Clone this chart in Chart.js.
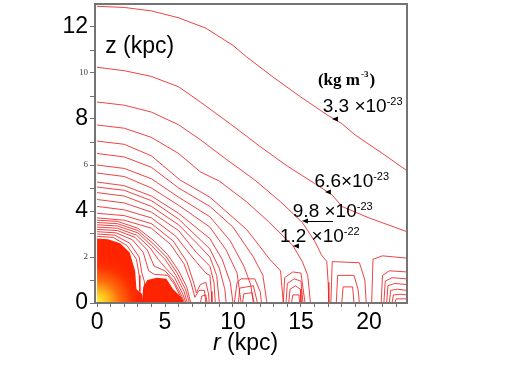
<!DOCTYPE html>
<html><head><meta charset="utf-8">
<script src="https://cdn.jsdelivr.net/npm/chart.js@4.4.1/dist/chart.umd.min.js"></script>
<style>html,body{margin:0;padding:0;background:#fff;}canvas{display:block;}</style>
</head><body>
<canvas id="c" width="526" height="371" style="width:526px;height:371px"></canvas>
<script>
// ---- axis ticks ----
const rTicks = [0,1,2,3,4,5,6,7,8,9,10,11,12,13,14,15,16,17,18,19,20,21,22];
const rTickLabels = [0,5,10,15,20];
const zTicks = [0,1,2,3,4,5,6,7,8,9,10,11,12];
const zMajorLabels = [0,4,8,12];
const zMinorLabels = [2,6,10];

// ---- density labels (kg m^-3) ----
const densityMantissa = ['3.3','6.6','9.8','1.2'];
const densityExponent = ['-23','-23','-23','-22'];

// ---- contour lines [r (kpc), z (kpc)] ----
const contour33 = [[0,12.9],[2,12.85],[4,12.7],[6,12.4],[8,11.95],[10,11.2],[11,10.7],[13,9.8],[15,8.95],[17,8.15],[18,7.8],[19,7.3],[21,6.5],[22.8,5.75]];
const contour66 = [[0,10.25],[2,10.1],[4,9.85],[6,9.4],[7.6,8.74],[10,7.7],[12,6.8],[14,5.95],[16,5.2],[17.3,4.7],[18,4.2],[20,3.7],[22.8,3.1]];
const contour98 = [[0,8.74],[2,8.6],[4,8.3],[6,7.75],[7.6,7.1],[9.5,6.25],[11.6,5.35],[13.5,4.4],[15.1,3.5],[16,2.7],[16.5,2.1],[16.9,1.8],[17,0.9],[17.05,0]];
const contour120 = [[0,7.74],[2,7.6],[4,7.2],[6,6.5],[7.6,5.7],[9,5.3],[11,4.4],[12.5,3.6],[14.4,2.5],[15.1,1.8],[15.5,1.2],[15.7,0]];
const contour05 = [[0,7.04],[2,6.9],[4,6.4],[6.1,5.35],[8.3,4.6],[11,3.2],[12.7,1.9],[13.5,1.4],[13.7,0]];
const contour06 = [[0,6.5],[2,6.35],[4,5.9],[6,5.0],[8.3,4.2],[10,3.3],[11.5,2.0],[12.2,1.2],[12.5,0]];
const contour07 = [[0,6.0],[2,5.85],[4,5.4],[6,4.6],[8.3,3.75],[9.8,2.7],[10.8,1.6],[11.3,0.8],[11.5,0]];
const contour08 = [[0,5.65],[2,5.5],[4,5.0],[6,4.25],[8.3,3.3],[9.5,2.3],[10.3,1.3],[10.6,0]];
const contour09 = [[0,5.26],[2,5.1],[4,4.65],[6,3.9],[8.3,2.8],[9.2,1.9],[9.8,0.9],[10,0]];
const contour10 = [[0,5.04],[2,4.9],[4,4.45],[6,3.65],[8.3,2.35],[9,1.5],[9.4,0.6],[9.5,0]];
const contour11 = [[0,4.8],[2,4.65],[4,4.2],[6,3.4],[7.5,2.5],[8.3,2.0],[8.8,1.2],[9.0,0]];
const contour12 = [[0,4.5],[2,4.35],[4,3.95],[6,3.15],[7.3,2.2],[8.3,1.6],[8.6,0.9],[8.7,0]];
const contour13 = [[0,4.2],[2,4.05],[4,3.7],[5.8,2.9],[7,2.0],[8,1.3],[8.3,1.2],[8.4,0.5],[8.45,0]];
const contour14 = [[0,3.9],[2,3.8],[4,3.45],[5.6,2.7],[6.6,1.8],[7.1,0.9],[7.3,0.45],[7.6,0.8],[8.0,0.9],[8.2,0.4],[8.25,0]];
const contour15 = [[0,3.7],[2,3.6],[4,3.25],[5.4,2.55],[6.4,1.7],[6.9,0.9],[7.2,0.25],[7.5,0.55],[7.9,0.55],[8.0,0]];
// dense inner contours
const inner1 = [[0,3.6],[1.5,3.55],[3,3.25],[4.2,2.7],[5.2,2.1],[6.0,1.4],[6.6,0.7],[6.9,0]];
const inner2 = [[0,3.5],[1.5,3.45],[3,3.15],[4.1,2.6],[5.1,2.0],[5.9,1.3],[6.5,0.6],[6.8,0]];
const inner3 = [[0,3.4],[1.5,3.35],[3,3.05],[4.0,2.5],[5.0,1.9],[5.8,1.2],[6.4,0.5],[6.65,0]];
const inner4 = [[0,3.3],[1.5,3.25],[2.9,2.95],[3.9,2.4],[4.5,1.9],[5.0,1.55],[5.7,1.1],[6.3,0.4],[6.55,0]];
const inner5 = [[0,3.2],[1.5,3.15],[2.8,2.85],[3.7,2.3],[4.2,1.6],[5.0,1.4],[5.6,1.0],[6.2,0.35],[6.45,0]];
const inner6 = [[0,3.1],[1.4,3.05],[2.6,2.75],[3.4,2.2],[3.8,1.4],[4.2,1.25],[5.2,1.2],[5.7,0.8],[6.3,0.1],[6.35,0]];
const inner7 = [[0,3.0],[1.3,2.95],[2.4,2.6],[3.1,2.0],[3.3,1.3],[3.5,0.9],[3.4,0]];
const inner8 = [[0,2.9],[1.2,2.85],[2.2,2.5],[2.9,1.9],[3.1,1.2],[3.15,0.5],[3.2,0]];
// closed bumps resting on the disc plane
const bump1 = [[10.1,0],[10.3,0.9],[10.6,1.05],[11.6,1.05],[12.0,0.5],[12.1,0]];
const bump2 = [[10.4,0],[10.5,0.65],[11.5,0.75],[11.8,0]];
const bump3 = [[10.7,0],[10.8,0.4],[11.4,0.45],[11.55,0]];
const bump4 = [[13.7,0],[13.8,1.1],[14.4,1.35],[15.0,1.3],[15.3,0]];
const bump5 = [[13.9,0],[14.0,0.85],[14.5,1.05],[15.0,0.95],[15.15,0]];
const bump6 = [[14.1,0],[14.2,0.6],[14.6,0.75],[14.95,0.6],[15.0,0]];
const bump7 = [[14.3,0],[14.4,0.35],[14.85,0.35],[14.9,0]];
const bump8 = [[17.2,0],[17.3,1.8],[19.3,1.75],[19.7,1.0],[19.8,0]];
const bump9 = [[17.6,0],[17.7,1.2],[18.9,1.2],[19.2,0.6],[19.3,0]];
const bump10 = [[18.0,0],[18.1,0.7],[18.8,0.7],[18.9,0]];
const bump11 = [[20.2,0],[20.3,1.9],[21,2.05],[22.8,1.95]];
const bump12 = [[20.9,0],[21.0,1.2],[21.5,1.4],[22.8,1.35]];
const bump13 = [[21.1,0],[21.2,0.95],[21.7,1.1],[22.8,1.05]];
const bump14 = [[21.3,0],[21.4,0.75],[21.9,0.85],[22.8,0.8]];
const bump15 = [[21.5,0],[21.6,0.55],[22.1,0.6],[22.8,0.55]];
const bump16 = [[21.7,0],[21.8,0.35],[22.3,0.38],[22.8,0.35]];
const bump17 = [[21.9,0],[22.0,0.18],[22.8,0.18]];
const bump18 = [[7.6,0],[7.7,0.3],[8.0,0.35],[8.1,0]];
// high-density filled regions
const coreRegion = [[0,2.8],[0.8,2.77],[1.7,2.6],[2.4,2.2],[2.8,1.4],[2.9,0.6],[3.3,0.4],[3.4,0]];
const lobeRegion = [[3.3,0],[3.4,0.7],[3.7,1.0],[4.4,1.1],[5.1,1.05],[5.6,0.6],[6.2,0.25],[6.4,0]];

const lineSets = [contour33,contour66,contour98,contour120,contour05,contour06,contour07,contour08,contour09,contour10,contour11,contour12,contour13,contour14,contour15,
  inner1,inner2,inner3,inner4,inner5,inner6,inner7,inner8,
  bump1,bump2,bump3,bump4,bump5,bump6,bump7,bump8,bump9,bump10,bump11,bump12,bump13,bump14,bump15,bump16,bump17,bump18];

const LINE = 'rgba(236,34,34,0.85)';
const toXY = pts => pts.map(p => ({x:p[0], y:p[1]}));

function coreFill(ctx){
  const chart = ctx.chart; const ca = chart.chartArea;
  if(!ca) return '#ff2400';
  const x0 = chart.scales.x.getPixelForValue(0), y0 = chart.scales.y.getPixelForValue(0);
  const g = chart.ctx.createRadialGradient(x0, y0, 0, x0, y0, 46);
  g.addColorStop(0, '#fff23a'); g.addColorStop(0.22, '#ffc21c');
  g.addColorStop(0.5, '#ff6a0c'); g.addColorStop(0.8, '#ff2e00'); g.addColorStop(1, '#ff2400');
  return g;
}

const datasets = [
  {data: toXY(coreRegion), borderWidth:0, pointRadius:0, fill:'origin', backgroundColor: coreFill, order: 10},
  {data: toXY(lobeRegion), borderWidth:0, pointRadius:0, fill:'origin', backgroundColor: '#ff2400', order: 10},
  ...lineSets.map(s => ({data: toXY(s), borderColor: LINE, borderWidth: 1, pointRadius: 0, fill: false, tension: 0, order: 1}))
];

const labelFont = "'Liberation Sans', Arial, sans-serif";
const isMajorZ = ctx => !!(ctx && ctx.tick && zMajorLabels.includes(ctx.tick.value));
const noPad = s => { s.paddingTop = 0; s.paddingBottom = 0; s.paddingLeft = 0; s.paddingRight = 0; };

const annotations = {
  id: 'annotations',
  afterDraw(chart){
    const c = chart.ctx, xs = chart.scales.x, ys = chart.scales.y, ca = chart.chartArea;
    const X = v => xs.getPixelForValue(v), Y = v => ys.getPixelForValue(v);
    c.save();
    // frame
    c.strokeStyle = '#747474'; c.lineWidth = 2;
    c.strokeRect(ca.left, ca.top, ca.right - ca.left, ca.bottom - ca.top);
    // axis titles
    c.fillStyle = '#000'; c.textBaseline = 'alphabetic'; c.textAlign = 'left';
    c.font = "23px " + labelFont;
    c.fillText('z (kpc)', X(0.6), Y(10.86));
    c.font = "italic 23px " + labelFont;
    const rw = c.measureText('r').width;
    c.fillText('r', 213, 350);
    c.font = "23px " + labelFont;
    c.fillText(' (kpc)', 213 + rw, 350);
    // unit label
    c.font = "bold 17px 'Liberation Serif', 'Times New Roman', serif";
    let ux = X(16.25), uy = Y(9.48);
    c.fillText('(kg m', ux, uy);
    ux += c.measureText('(kg m').width + 1;
    c.font = "bold 9px 'Liberation Serif', serif";
    c.fillText('-3', ux, uy - 8);
    ux += c.measureText('-3').width + 1;
    c.font = "bold 17px 'Liberation Serif', 'Times New Roman', serif";
    c.fillText(')', ux, uy);
    // density labels
    const pos = [[16.6, 8.3, ' '], [16.0, 5.04, ''], [14.4, 3.74, ' '], [13.45, 2.65, ' ']];
    densityMantissa.forEach((m, i) => {
      let x = X(pos[i][0]); const y = Y(pos[i][1]);
      c.font = "19px " + labelFont;
      const main = m + pos[i][2] + '\u00d710';
      c.fillText(main, x, y);
      x += c.measureText(main).width;
      c.font = "11px " + labelFont;
      c.fillText(densityExponent[i], x, y - 7);
    });
    // arrows pointing at contours
    const tips = [[17.28, 8.0], [16.76, 4.83], [15.07, 3.57], [14.41, 2.48]];
    c.fillStyle = '#000';
    tips.forEach(t => {
      const tx = X(t[0]), ty = Y(t[1]);
      c.beginPath(); c.moveTo(tx, ty); c.lineTo(tx + 6, ty - 2.5); c.lineTo(tx + 6, ty + 2.5); c.closePath(); c.fill();
    });
    c.strokeStyle = '#000'; c.lineWidth = 1;
    c.beginPath(); c.moveTo(X(15.07) + 5, Math.round(Y(3.57)) + 0.5); c.lineTo(X(17.35), Math.round(Y(3.57)) + 0.5); c.stroke();
    c.restore();
  }
};

new Chart(document.getElementById('c'), {
  type: 'line',
  data: { datasets },
  plugins: [annotations],
  options: {
    responsive: false, animation: false, devicePixelRatio: 1,
    layout: { padding: { left: 0, right: 119, top: 4, bottom: 0 } },
    plugins: { legend: { display: false }, tooltip: { enabled: false } },
    scales: {
      x: {
        type: 'linear', min: -0.15, max: 22.8,
        afterBuildTicks: s => { s.ticks = rTicks.map(v => ({value: v})); },
        afterFit: s => { s.height = 68; noPad(s); },
        ticks: { autoSkip: false, maxRotation: 0, padding: 2, color: '#000',
          font: { size: 23, family: labelFont },
          callback: v => rTickLabels.includes(v) ? String(v) : '' },
        grid: { drawOnChartArea: false, drawTicks: true, tickLength: 4, color: '#707070' },
        border: { display: true, color: '#747474', width: 2 }
      },
      y: {
        type: 'linear', min: 0, max: 13.0,
        afterBuildTicks: s => { s.ticks = zTicks.map(v => ({value: v})); },
        afterFit: s => { s.width = 95; noPad(s); },
        ticks: { autoSkip: false, padding: 2,
          color: ctx => isMajorZ(ctx) ? '#000' : '#444',
          font: ctx => isMajorZ(ctx) ? { size: 23, family: labelFont } : { size: 9, family: "'Liberation Serif', serif" },
          callback: v => (zMajorLabels.includes(v) || zMinorLabels.includes(v)) ? String(v) : '' },
        grid: { drawOnChartArea: false, drawTicks: true, tickLength: 5, color: '#707070' },
        border: { display: true, color: '#747474', width: 2 }
      }
    }
  }
});
</script>
</body></html>
